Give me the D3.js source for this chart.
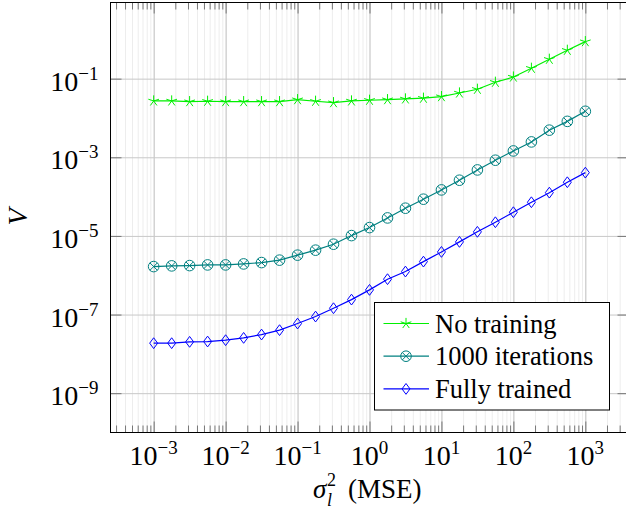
<!DOCTYPE html>
<html>
<head>
<meta charset="utf-8">
<script src="https://cdn.jsdelivr.net/npm/d3@7"></script>
<style>
  body { margin: 0; background: #fff; }
  svg { display: block; font-family: "Liberation Serif", "Times New Roman", serif; }
</style>
</head>
<body>
<div id="chart"></div>
<script>
// sample points (sigma_l^2), 4 per decade
var sigma = [0.001, 0.00178, 0.00316, 0.00562, 0.01, 0.0178, 0.0316, 0.0562,
  0.1, 0.178, 0.316, 0.562, 1, 1.78, 3.16, 5.62, 10, 17.8, 31.6, 56.2,
  100, 178, 316, 562, 1000];

// V values
var noTraining = [0.0271, 0.0271, 0.0260, 0.0266, 0.0260, 0.0260, 0.0260, 0.0260,
  0.0292, 0.0266, 0.0245, 0.0271, 0.0282, 0.0292, 0.0305, 0.0318, 0.0349, 0.0432,
  0.0537, 0.0810, 0.110, 0.184, 0.311, 0.527, 0.873];
var iter1000 = [1.66e-6, 1.73e-6, 1.76e-6, 1.83e-6, 1.83e-6, 1.94e-6, 2.10e-6, 2.42e-6,
  3.24e-6, 4.34e-6, 6.15e-6, 1.02e-5, 1.63e-5, 2.87e-5, 5.07e-5, 8.59e-5, 1.48e-4,
  2.61e-4, 4.77e-4, 8.42e-4, 1.45e-3, 2.46e-3, 4.9e-3, 8.2e-3, 1.48e-2];
var fullyTrained = [1.87e-8, 1.87e-8, 2.02e-8, 2.06e-8, 2.23e-8, 2.55e-8, 3.10e-8, 4.01e-8,
  5.90e-8, 8.89e-8, 1.45e-7, 2.40e-7, 4.24e-7, 7.94e-7, 1.24e-6, 2.22e-6, 3.92e-6,
  7.05e-6, 1.27e-5, 2.23e-5, 4.01e-5, 7.19e-5, 1.26e-4, 2.32e-4, 4.07e-4];

var seriesNames = ["No training", "1000 iterations", "Fully trained"];

// tick exponents
var xTickExp = [-3, -2, -1, 0, 1, 2, 3];
var yTickExp = [-9, -7, -5, -3, -1];

function drawChart() {
  // ---------------------------//
  //       SIZES AND SCALES     //
  // ---------------------------//
  var W = 626, H = 514;
  var pLeft = 110.5, pRight = 628.5, pTop = 2.5, pBottom = 432.5;

  var svg = d3.select("#chart").append("svg")
    .attr("width", W)
    .attr("height", H);

  var x = d3.scaleLog()
    .domain([Math.pow(10, -3.6), Math.pow(10, 3.6)])
    .range([pLeft, pRight]);
  var y = d3.scaleLog()
    .domain([1e-10, Math.pow(10, 0.937)])
    .range([pBottom, pTop]);

  var xMajor = xTickExp.map(function (e) { return Math.pow(10, e); });
  var yMajor = yTickExp.map(function (e) { return Math.pow(10, e); });
  var xMinor = [];
  for (var e = -4; e <= 3; e++) {
    for (var m = 2; m <= 9; m++) {
      var v = m * Math.pow(10, e);
      if (v > x.domain()[0] && v < x.domain()[1]) xMinor.push(v);
    }
  }

  // ---------------------------//
  //           GRID             //
  // ---------------------------//
  function gridX(vals, color) {
    var g = svg.append("g")
      .attr("transform", "translate(0," + pBottom + ")")
      .call(d3.axisBottom(x).tickValues(vals).tickSize(-(pBottom - pTop)).tickFormat(""));
    g.select(".domain").remove();
    g.selectAll("line").attr("stroke", color).attr("stroke-width", 1);
  }
  gridX(xMinor, "#ededed");
  gridX(xMajor, "#bdbdbd");

  var gy = svg.append("g")
    .attr("transform", "translate(" + pLeft + ",0)")
    .call(d3.axisLeft(y).tickValues(yMajor).tickSize(-(pRight - pLeft)).tickFormat(""));
  gy.select(".domain").remove();
  gy.selectAll("line").attr("stroke", "#c8c8c8").attr("stroke-width", 1);

  // ---------------------------//
  //        TICK MARKS          //
  // ---------------------------//
  function ticks(axisFn, pos, vals, len, isX) {
    var g = svg.append("g")
      .attr("transform", isX ? "translate(0," + pos + ")" : "translate(" + pos + ",0)")
      .call(axisFn(isX ? x : y).tickValues(vals).tickSize(-len).tickFormat(""));
    g.select(".domain").remove();
    g.selectAll("line").attr("stroke", "#777").attr("stroke-width", 1);
  }
  ticks(d3.axisBottom, pBottom, xMinor, 7, true);
  ticks(d3.axisBottom, pBottom, xMajor, 11, true);
  ticks(d3.axisTop, pTop, xMinor, 7, true);
  ticks(d3.axisTop, pTop, xMajor, 11, true);
  ticks(d3.axisLeft, pLeft, yMajor, 11, false);
  ticks(d3.axisRight, pRight, yMajor, 11, false);

  // ---------------------------//
  //         MARKERS            //
  // ---------------------------//
  function starPath(r) {
    var p = "";
    for (var k = 0; k < 5; k++) {
      var a = (-90 + 72 * k) * Math.PI / 180;
      p += "M0,0L" + (r * Math.cos(a)).toFixed(2) + "," + (r * Math.sin(a)).toFixed(2);
    }
    return p;
  }
  function drawMarker(g, type, color) {
    if (type === "star") {
      g.append("path").attr("d", starPath(5.6))
        .attr("stroke", color).attr("stroke-width", 1).attr("fill", "none");
    } else if (type === "otimes") {
      var r = 5.3, c = r * Math.SQRT1_2;
      g.append("circle").attr("r", r)
        .attr("stroke", color).attr("stroke-width", 1).attr("fill", "none");
      g.append("path").attr("d", "M" + (-c) + "," + (-c) + "L" + c + "," + c + "M" + (-c) + "," + c + "L" + c + "," + (-c))
        .attr("stroke", color).attr("stroke-width", 1);
    } else {
      g.append("path").attr("d", "M0,-5.4L4,0L0,5.4L-4,0Z")
        .attr("stroke", color).attr("stroke-width", 1).attr("fill", "none");
    }
  }

  var series = [
    { name: seriesNames[0], values: noTraining, color: "#00f000", mark: "star" },
    { name: seriesNames[1], values: iter1000, color: "#008080", mark: "otimes" },
    { name: seriesNames[2], values: fullyTrained, color: "#0000ff", mark: "diamond" }
  ];

  var line = d3.line()
    .x(function (d) { return x(d[0]); })
    .y(function (d) { return y(d[1]); });

  series.forEach(function (s) {
    var pts = sigma.map(function (sx, i) { return [sx, s.values[i]]; });
    svg.append("path")
      .datum(pts)
      .attr("d", line)
      .attr("fill", "none")
      .attr("stroke", s.color)
      .attr("stroke-width", 1.2);
    svg.append("g").selectAll("g")
      .data(pts)
      .enter()
      .append("g")
      .attr("transform", function (d) { return "translate(" + x(d[0]) + "," + y(d[1]) + ")"; })
      .each(function () { drawMarker(d3.select(this), s.mark, s.color); });
  });

  // frame
  svg.append("rect")
    .attr("x", pLeft).attr("y", pTop)
    .attr("width", pRight - pLeft).attr("height", pBottom - pTop)
    .attr("fill", "none").attr("stroke", "#000").attr("stroke-width", 1);

  // ---------------------------//
  //        TICK LABELS         //
  // ---------------------------//
  function powLabel(t, exp) {
    t.append("tspan").text("10");
    t.append("tspan")
      .attr("dy", -11)
      .style("font-size", "19px")
      .text((exp < 0 ? "\u2212" : "") + Math.abs(exp));
  }

  svg.append("g").selectAll("text")
    .data(xTickExp)
    .enter()
    .append("text")
    .attr("x", function (d) { return x(Math.pow(10, d)); })
    .attr("y", 464.5)
    .attr("text-anchor", "middle")
    .style("font-size", "28px")
    .each(function (d) { powLabel(d3.select(this), d); });

  svg.append("g").selectAll("text")
    .data(yTickExp)
    .enter()
    .append("text")
    .attr("x", 98.5)
    .attr("y", function (d) { return y(Math.pow(10, d)) + 12; })
    .attr("text-anchor", "end")
    .style("font-size", "28px")
    .each(function (d) { powLabel(d3.select(this), d); });

  // ---------------------------//
  //        AXIS LABELS         //
  // ---------------------------//
  svg.append("text")
    .attr("transform", "translate(26.5,217) rotate(-90)")
    .attr("text-anchor", "middle")
    .style("font-size", "28px")
    .style("font-style", "italic")
    .text("V");

  var xl = svg.append("g").style("font-size", "27px");
  xl.append("text").attr("x", 313).attr("y", 498).style("font-style", "italic").text("\u03c3");
  xl.append("text").attr("x", 327).attr("y", 485.5).style("font-size", "18px").text("2");
  xl.append("text").attr("x", 327).attr("y", 505.5).style("font-size", "18px").style("font-style", "italic").text("l");
  xl.append("text").attr("x", 348).attr("y", 498).text("(MSE)");

  // ---------------------------//
  //          LEGEND            //
  // ---------------------------//
  var lg = svg.append("g");
  lg.append("rect")
    .attr("x", 374.5).attr("y", 302.5)
    .attr("width", 235).attr("height", 107.5)
    .attr("fill", "#fff").attr("stroke", "#000").attr("stroke-width", 1);

  var rows = lg.selectAll("g.row")
    .data(series)
    .enter()
    .append("g")
    .attr("class", "row")
    .attr("transform", function (d, i) { return "translate(0," + (323.5 + i * 32.7) + ")"; });
  rows.append("line")
    .attr("x1", 383.5).attr("x2", 429)
    .attr("stroke", function (d) { return d.color; })
    .attr("stroke-width", 1.2);
  rows.append("g")
    .attr("transform", "translate(406,0)")
    .each(function (d) { drawMarker(d3.select(this), d.mark, d.color); });
  rows.append("text")
    .attr("x", 435)
    .attr("y", 9)
    .style("font-size", "26.5px")
    .text(function (d) { return d.name; });
}

drawChart();
</script>
</body>
</html>
